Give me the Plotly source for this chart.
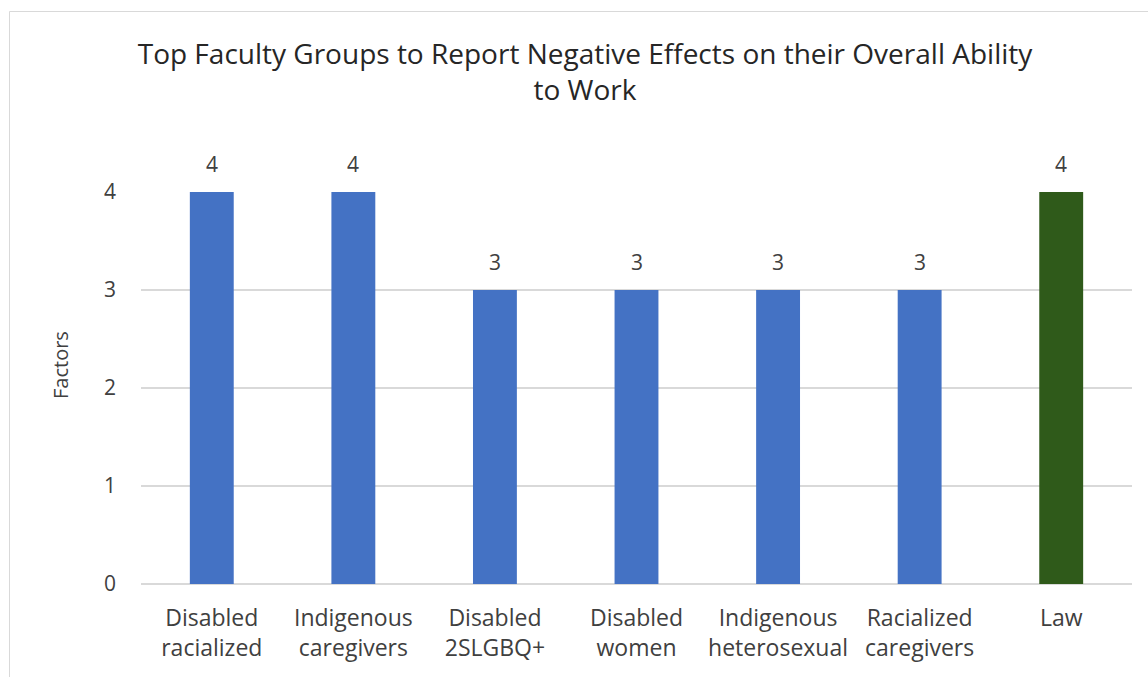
import plotly.graph_objects as go

categories = ["Disabled<br>racialized", "Indigenous<br>caregivers", "Disabled<br>2SLGBQ+",
              "Disabled<br>women", "Indigenous<br>heterosexual", "Racialized<br>caregivers", "Law"]
factors = [4, 4, 3, 3, 3, 3, 4]
bar_colors = ["#4472C4"] * 6 + ["#2F5A1A"]

FONT = "Open Sans, Lato, sans-serif"
TEXT = "#404040"

fig = go.Figure(go.Bar(
    x=categories, y=factors,
    marker=dict(color=bar_colors, line=dict(width=0)),
))

W, H = 1148, 677
L, R, T, B = 141, 16, 192, 93
pw, ph = W - L - R, H - T - B

def px_x(p):
    return (p - L) / pw

def px_y(p):
    return (H - B - p) / ph

# value labels above each bar
annotations = [
    dict(x=c, y=v, xref="x", yref="y", text=str(v), showarrow=False,
         yanchor="bottom", yshift=12, font=dict(size=21, color=TEXT, family=FONT))
    for c, v in zip(categories, factors)
]
# y-axis title
annotations.append(dict(
    x=px_x(60), y=px_y(365), xref="paper", yref="paper", text="Factors",
    textangle=-90, showarrow=False, xanchor="center", yanchor="middle",
    font=dict(size=20, color=TEXT, family=FONT),
))

fig.update_layout(
    width=W, height=H,
    margin=dict(l=L, r=R, t=T, b=B),
    paper_bgcolor="white", plot_bgcolor="white",
    bargap=0.69,
    showlegend=False,
    font=dict(family=FONT, color=TEXT, size=20),
    title=dict(
        text="Top Faculty Groups to Report Negative Effects on their Overall Ability<br>to Work",
        x=585 / W, xanchor="center", y=1 - 64 / H, yanchor="middle",
        font=dict(size=28, color="#262626", family=FONT),
    ),
    xaxis=dict(showline=False, ticks="", ticklabelstandoff=18,
               tickfont=dict(size=23, color=TEXT)),
    yaxis=dict(
        range=[0, 4], dtick=1, showgrid=True, gridcolor="#D9D9D9", gridwidth=1.5,
        zeroline=True, zerolinecolor="#D9D9D9", zerolinewidth=1.5,
        ticks="", ticklabelstandoff=24,
        tickfont=dict(size=21, color=TEXT),
    ),
    annotations=annotations,
    shapes=[dict(
        type="rect", xref="paper", yref="paper",
        x0=px_x(9.5), x1=px_x(1200), y0=px_y(720), y1=px_y(11.5),
        line=dict(color="#D9D9D9", width=1), fillcolor="rgba(0,0,0,0)", layer="below",
    )],
)

fig.write_html("out.html")
